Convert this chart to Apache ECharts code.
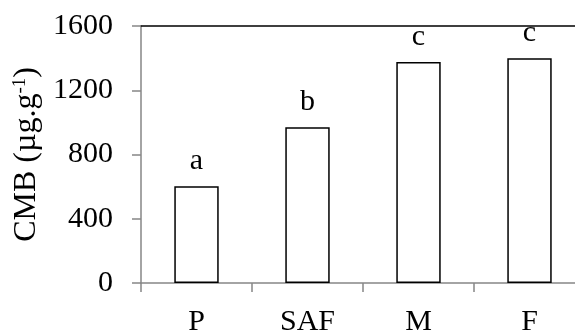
<!DOCTYPE html>
<html>
<head>
<meta charset="utf-8">
<script src="https://cdn.jsdelivr.net/npm/echarts@6/dist/echarts.min.js"></script>
<style>html,body{margin:0;padding:0;background:#fff;}#c{width:575px;height:331px;}</style>
</head>
<body>
<div id="c"></div>
<script>
var categories = ['P', 'SAF', 'M', 'F'];
var values = [602, 969, 1376, 1399];
var letters = ['a', 'b', 'c', 'c'];
var yTicks = [0, 400, 800, 1200, 1600];

var FONT = '"Liberation Serif", "Times New Roman", serif';
var chart = echarts.init(document.getElementById('c'), null, {renderer: 'canvas'});
chart.setOption({
  animation: false,
  backgroundColor: '#ffffff',
  grid: {left: 141, top: 26, bottom: 48, right: -10, containLabel: false, outerBoundsMode: 'none'},
  xAxis: [{
    type: 'category',
    data: categories,
    position: 'bottom',
    axisLine: {show: true, lineStyle: {color: '#868686', width: 1.5}},
    axisTick: {show: true, length: 9, alignWithLabel: false, lineStyle: {color: '#868686', width: 1.5}},
    axisLabel: {color: '#000', fontFamily: FONT, fontSize: 30, margin: 24}
  }, {
    type: 'category',
    data: categories,
    position: 'top',
    axisLine: {show: true, lineStyle: {color: '#000', width: 1.5}},
    axisTick: {show: false},
    axisLabel: {show: false}
  }],
  yAxis: {
    type: 'value',
    min: yTicks[0],
    max: yTicks[yTicks.length - 1],
    interval: yTicks[1] - yTicks[0],
    splitLine: {show: false},
    axisLine: {show: true, lineStyle: {color: '#868686', width: 1.5}},
    axisTick: {show: true, length: 9, lineStyle: {color: '#868686', width: 1.5}},
    axisLabel: {color: '#000', fontFamily: FONT, fontSize: 30, margin: 28,
      formatter: function (v) { return String(v); }},
    name: '{t|CMB (µg.g}{s|-1}{t|)}',
    nameLocation: 'middle',
    nameGap: 98,
    nameTextStyle: {
      rich: {
        t: {fontFamily: FONT, fontSize: 32, color: '#000'},
        s: {fontFamily: FONT, fontSize: 19, color: '#000', verticalAlign: 'top', padding: [0, 0, 12, 0]}
      }
    }
  },
  series: [{
    type: 'bar',
    xAxisIndex: 0,
    data: values,
    barWidth: '40%',
    itemStyle: {color: '#fff', borderColor: '#000', borderWidth: 1.5},
    label: {
      show: true,
      position: 'top',
      distance: 10,
      fontFamily: FONT,
      fontSize: 30,
      color: '#000',
      formatter: function (p) { return letters[p.dataIndex]; }
    }
  }]
});
</script>
</body>
</html>
